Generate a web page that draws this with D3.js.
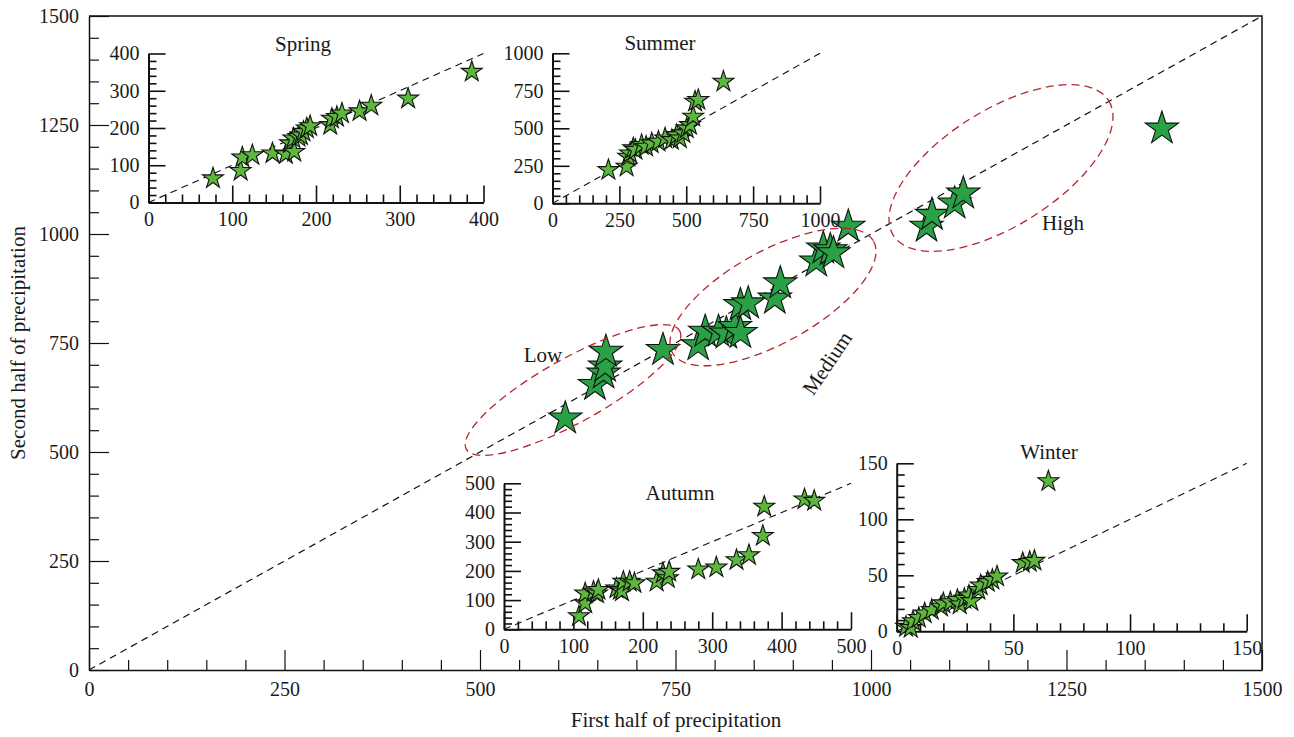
<!DOCTYPE html>
<html>
<head>
<meta charset="utf-8">
<script src="https://cdn.jsdelivr.net/npm/d3@7"></script>
<style>
  html, body { margin: 0; padding: 0; background: #fff; }
  svg { display: block; font-family: "Liberation Serif", "DejaVu Serif", serif; }
  text { fill: #1a1a1a; }
</style>
</head>
<body>
<svg id="chart" width="1294" height="737"></svg>
<script>
// Annual precipitation: first half vs second half of the year
const annualFirst  = [609, 647, 658, 660, 661, 734, 779, 788, 805, 815, 826, 833, 833, 843, 877, 884, 930, 939, 948, 952, 971, 1071, 1078, 1107, 1118, 1372];
const annualSecond = [577, 654, 680, 696, 730, 734, 745, 776, 776, 772, 787, 773, 837, 841, 852, 887, 937, 967, 963, 956, 1017, 1017, 1044, 1070, 1093, 1242];

// Seasonal precipitation
const springFirst  = [77, 110, 112, 124, 148, 164, 169, 173, 174, 179, 182, 185, 189, 193, 217, 219, 225, 231, 252, 266, 310, 386];
const springSecond = [65, 85, 121, 127, 132, 130, 159, 172, 136, 176, 180, 190, 199, 205, 208, 225, 230, 239, 245, 260, 279, 351];

const summerFirst  = [209, 277, 283, 290, 302, 310, 333, 350, 371, 396, 421, 446, 464, 476, 489, 502, 514, 526, 533, 545, 639];
const summerSecond = [222, 244, 311, 333, 367, 356, 389, 378, 400, 411, 433, 422, 455, 433, 467, 500, 522, 578, 678, 689, 811];

const autumnFirst  = [108, 117, 117, 129, 134, 136, 162, 167, 170, 172, 181, 188, 220, 229, 236, 238, 280, 306, 335, 353, 373, 375, 433, 447];
const autumnSecond = [45, 89, 123, 129, 123, 135, 140, 135, 130, 163, 163, 158, 163, 192, 175, 197, 205, 212, 237, 254, 320, 420, 445, 440];

const winterFirst  = [4, 6, 7, 9.5, 12, 15, 19, 20, 23, 26, 27, 29, 31, 32, 35, 36, 39, 41, 43, 54, 57, 59, 65];
const winterSecond = [4, 3, 9, 12, 16, 19, 22, 25, 26, 28, 24, 29, 32, 27, 37, 41, 44, 46, 49, 61, 62, 63, 134];

// Axis ticks
const mainTicks   = [0, 250, 500, 750, 1000, 1250, 1500];
const springTicks = [0, 100, 200, 300, 400];
const summerTicks = [0, 250, 500, 750, 1000];
const autumnTicks = [0, 100, 200, 300, 400, 500];
const winterTicks = [0, 50, 100, 150];

// Groups of years
const groupLabels = ["Low", "Medium", "High"];

const svg = d3.select("#chart");
const FONT = 20;
const TITLE_FONT = 21;

function starPath(R) {
  const r = R * 0.382;
  const pts = [];
  for (let i = 0; i < 10; i++) {
    const a = -Math.PI / 2 + i * Math.PI / 5;
    const rad = i % 2 === 0 ? R : r;
    pts.push([rad * Math.cos(a), rad * Math.sin(a)]);
  }
  return "M" + pts.map(p => p[0].toFixed(2) + "," + p[1].toFixed(2)).join("L") + "Z";
}

function minorsOf(majors, step) {
  const lo = majors[0], hi = majors[majors.length - 1];
  return d3.range(lo, hi + step / 2, step).filter(v => !majors.some(m => Math.abs(m - v) < 1e-9));
}

function styleAxis(g, width) {
  g.selectAll("path.domain").attr("stroke", "#111").attr("stroke-width", width);
  g.selectAll(".tick line").attr("stroke", "#111").attr("stroke-width", width * 0.8);
  g.selectAll(".tick text").attr("font-size", FONT).attr("font-family", "Liberation Serif, serif").attr("fill", "#1a1a1a");
}

// Draws one x/y axis pair with inward major + minor ticks
function drawAxes(g, x, y, majors, minorStep, opt) {
  const minors = minorsOf(majors, minorStep);
  const xr = x.range(), yr = y.range();
  // minor ticks
  g.append("g").attr("transform", `translate(0,${yr[0]})`)
    .call(d3.axisBottom(x).tickValues(minors).tickSize(-opt.minor).tickFormat(() => ""))
    .call(a => { a.select("path.domain").remove(); styleAxis(a, opt.w); });
  g.append("g").attr("transform", `translate(${xr[0]},0)`)
    .call(d3.axisLeft(y).tickValues(minors).tickSize(-opt.minor).tickFormat(() => ""))
    .call(a => { a.select("path.domain").remove(); styleAxis(a, opt.w); });
  // major ticks with labels
  g.append("g").attr("transform", `translate(0,${yr[0]})`)
    .call(d3.axisBottom(x).tickValues(majors).tickSize(-opt.major).tickSizeOuter(0).tickPadding(opt.padX).tickFormat(d3.format("d")))
    .call(a => styleAxis(a, opt.w));
  g.append("g").attr("transform", `translate(${xr[0]},0)`)
    .call(d3.axisLeft(y).tickValues(majors).tickSize(-opt.major).tickSizeOuter(0).tickPadding(opt.padY).tickFormat(d3.format("d")))
    .call(a => styleAxis(a, opt.w));
}

function diagonal(g, x, y, maxV, dash, w) {
  g.append("line")
    .attr("x1", x(0)).attr("y1", y(0))
    .attr("x2", x(maxV)).attr("y2", y(maxV))
    .attr("stroke", "#111").attr("stroke-width", w)
    .attr("stroke-dasharray", dash);
}

function drawStars(g, x, y, xs, ys, R, fill) {
  const pts = xs.map((v, i) => ({ a: v, b: ys[i] }));
  g.append("g").selectAll("path").data(pts).join("path")
    .attr("d", starPath(R))
    .attr("transform", d => `translate(${x(d.a)},${y(d.b)})`)
    .attr("fill", fill)
    .attr("stroke", "#111")
    .attr("stroke-width", 1.1)
    .attr("stroke-linejoin", "miter");
}

// ---------- Main panel ----------
const mx = d3.scaleLinear().domain([0, 1500]).range([89, 1262]);
const my = d3.scaleLinear().domain([0, 1500]).range([670, 16]);
const main = svg.append("g");

diagonal(main, mx, my, 1500, "7,5", 1.2);

// frame top and right
main.append("path")
  .attr("d", `M${mx(0)},${my(1500)}H${mx(1500)}V${my(0)}`)
  .attr("fill", "none").attr("stroke", "#111").attr("stroke-width", 1.5);
drawAxes(main, mx, my, mainTicks, 50, { major: 20, minor: 10, w: 1.5, padX: 12, padY: 10 });

main.append("text")
  .attr("x", 676).attr("y", 727)
  .attr("text-anchor", "middle").attr("font-size", TITLE_FONT)
  .text("First half of precipitation");
main.append("text")
  .attr("transform", "translate(25,343) rotate(-90)")
  .attr("text-anchor", "middle").attr("font-size", TITLE_FONT)
  .text("Second half of precipitation");

// ---------- Seasonal insets ----------
const INSET_FILL = "#5cb83b";
const insets = [
  { name: "Spring", xs: springFirst, ys: springSecond, ticks: springTicks, minor: 20,
    xr: [148.5, 483.5], yr: [202.5, 53.5], title: [303, 51] },
  { name: "Summer", xs: summerFirst, ys: summerSecond, ticks: summerTicks, minor: 50,
    xr: [552.5, 820], yr: [203.3, 53.3], title: [660, 50] },
  { name: "Autumn", xs: autumnFirst, ys: autumnSecond, ticks: autumnTicks, minor: 20,
    xr: [504, 851], yr: [629.3, 483.3], title: [680, 500] },
  { name: "Winter", xs: winterFirst, ys: winterSecond, ticks: winterTicks, minor: 10,
    xr: [896.7, 1246.7], yr: [631.3, 463.3], title: [1049, 459] }
];

insets.forEach(p => {
  const maxV = p.ticks[p.ticks.length - 1];
  const x = d3.scaleLinear().domain([0, maxV]).range(p.xr);
  const y = d3.scaleLinear().domain([0, maxV]).range(p.yr);
  const g = svg.append("g");
  diagonal(g, x, y, maxV, "7,5", 1.1);
  drawAxes(g, x, y, p.ticks, p.minor, { major: 17, minor: 8, w: 2, padX: 9.5, padY: 9 });
  g.append("text")
    .attr("x", p.title[0]).attr("y", p.title[1])
    .attr("text-anchor", "middle").attr("font-size", TITLE_FONT)
    .text(p.name);
  drawStars(g, x, y, p.xs, p.ys, 11, INSET_FILL);
});

// ---------- Group ellipses and labels ----------
const RED = "#b3282d";
const groups = [
  { cx: 573, cy: 390, rx: 122, ry: 32, rot: -29 },
  { cx: 773, cy: 297, rx: 115, ry: 46, rot: -29 },
  { cx: 1001, cy: 168, rx: 127, ry: 58, rot: -32 }
];
svg.append("g").selectAll("ellipse").data(groups).join("ellipse")
  .attr("cx", 0).attr("cy", 0)
  .attr("rx", d => d.rx).attr("ry", d => d.ry)
  .attr("transform", d => `translate(${d.cx},${d.cy}) rotate(${d.rot})`)
  .attr("fill", "none").attr("stroke", RED)
  .attr("stroke-width", 1.3).attr("stroke-dasharray", "8,5");

drawStars(main, mx, my, annualFirst, annualSecond, 17.5, "#2ba146");

const labelPos = [
  { x: 543, y: 362, rot: 0 },
  { x: 827, y: 363, rot: -56 },
  { x: 1063, y: 230, rot: 0 }
];
svg.append("g").selectAll("text").data(groupLabels).join("text")
  .attr("transform", (d, i) => `translate(${labelPos[i].x},${labelPos[i].y}) rotate(${labelPos[i].rot})`)
  .attr("text-anchor", "middle")
  .attr("dy", (d, i) => labelPos[i].rot ? "0.35em" : 0)
  .attr("font-size", TITLE_FONT)
  .text(d => d);
</script>
</body>
</html>
